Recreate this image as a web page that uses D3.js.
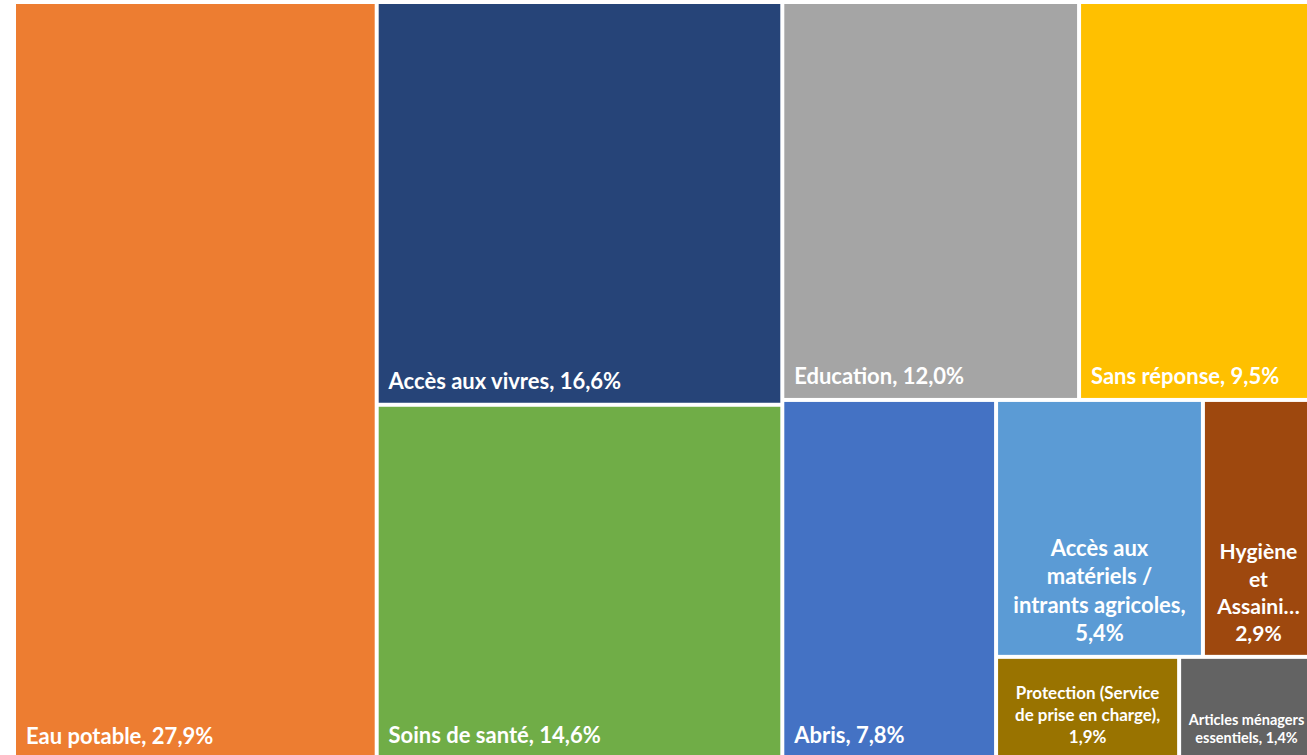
<!DOCTYPE html>
<html>
<head>
<meta charset="utf-8">
<script src="https://cdn.jsdelivr.net/npm/d3@7"></script>
<style>
    body { margin: 0; background: #ffffff; }
    svg { display: block; }
    text { font-family: Lato, "Noto Sans", sans-serif; font-weight: 700; fill: #ffffff; }
</style>
</head>
<body>
<svg id="drawing_region"></svg>
<script>
// données (part des réponses, %)
const categories = [
    "Eau potable",
    "Accès aux vivres",
    "Soins de santé",
    "Education",
    "Sans réponse",
    "Abris",
    "Accès aux matériels / intrants agricoles",
    "Hygiène et Assainissement",
    "Protection (Service de prise en charge)",
    "Articles ménagers essentiels"
];
const percentages = [27.9, 16.6, 14.6, 12.0, 9.5, 7.8, 5.4, 2.9, 1.9, 1.4];

// couleurs Office
const palette = ["#ED7D31", "#264478", "#70AD47", "#A5A5A5", "#FFC000",
                 "#4472C4", "#5B9BD5", "#9E480E", "#997300", "#636363"];

// nombre de cases par bande (disposition façon Excel)
const stripSizes = [1, 2, 2, 1, 2, 2];

const config = {
    parent: '#drawing_region',
    width: 1307,
    height: 755,
    margin: {top: 4, right: -5, bottom: -2, left: 16}
};

const color = d3.scaleOrdinal().domain(categories).range(palette);
const fmt = v => d3.format(".1f")(v).replace(".", ",") + "%";

// tuilage par bandes : colonne si la zone est plus large que haute, ligne sinon
function stripTile(parent, x0, y0, x1, y1) {
    const nodes = parent.children;
    let remaining = parent.value;
    let i = 0;
    for (const n of stripSizes) {
        if (i >= nodes.length) break;
        const kids = nodes.slice(i, i + n);
        const row = {children: kids, value: d3.sum(kids, d => d.value)};
        const dx = x1 - x0, dy = y1 - y0;
        const last = i + n >= nodes.length;
        if (last) {
            if (dx >= dy) d3.treemapDice(row, x0, y0, x1, y1);
            else d3.treemapSlice(row, x0, y0, x1, y1);
        } else if (dx < dy) {
            const ny = y0 + dy * row.value / remaining;
            d3.treemapDice(row, x0, y0, x1, ny);
            y0 = ny;
        } else {
            const nx = x0 + dx * row.value / remaining;
            d3.treemapSlice(row, x0, y0, nx, y1);
            x0 = nx;
        }
        remaining -= row.value;
        i += n;
    }
}

const svg = d3.select(config.parent)
    .attr('width', config.width)
    .attr('height', config.height);

const inner_width = config.width - config.margin.left - config.margin.right;
const inner_height = config.height - config.margin.top - config.margin.bottom;

const root = d3.hierarchy({children: categories.map((c, i) => ({name: c, value: percentages[i]}))})
    .sum(d => d.value || 0);

d3.treemap()
    .tile(stripTile)
    .size([inner_width, inner_height])
    .paddingInner(4)(root);

const chart = svg.append('g')
    .attr('transform', `translate(${config.margin.left}, ${config.margin.top})`);

const cell = chart.selectAll('g')
    .data(root.leaves())
    .join('g')
    .attr('transform', d => `translate(${d.x0}, ${d.y0})`);

cell.append('rect')
    .attr('width', d => d.x1 - d.x0)
    .attr('height', d => d.y1 - d.y0)
    .attr('fill', d => color(d.data.name));

// étiquettes : taille selon la surface de la case (max 22px)
cell.each(function(d) {
    const g = d3.select(this);
    const w = d.x1 - d.x0, h = d.y1 - d.y0;
    const fs = Math.min(22, 0.128 * Math.sqrt(w * h));
    const lh = fs * 1.3;
    const pad = fs * 0.45;
    const bottom = 13.5;
    const label = `${d.data.name}, ${fmt(d.data.value)}`;
    const t = g.append('text').style('font-size', fs + 'px');
    const measure = s => { t.text(s); return t.node().getComputedTextLength(); };
    const avail = w - 2 * pad;

    if (measure(label) <= avail) {
        t.text(label)
            .attr('x', pad)
            .attr('y', h - bottom);
        return;
    }

    // retour à la ligne, mot trop long tronqué avec « … »
    const words = label.split(' ');
    const lines = [];
    let line = '';
    words.forEach(wd => {
        const test = line ? line + ' ' + wd : wd;
        if (measure(test) <= avail) { line = test; return; }
        if (line) lines.push(line);
        line = wd;
        if (measure(line) > avail) {
            let s = line;
            while (s.length > 1 && measure(s + '…') > avail) s = s.slice(0, -1);
            line = s.replace(/[ ,]+$/, '') + '…';
        }
    });
    if (line) lines.push(line);

    t.text(null)
        .attr('text-anchor', 'middle');
    lines.forEach((l, k) => {
        t.append('tspan')
            .attr('x', w / 2)
            .attr('y', h - bottom - (lines.length - 1 - k) * lh)
            .text(l);
    });
});
</script>
</body>
</html>
